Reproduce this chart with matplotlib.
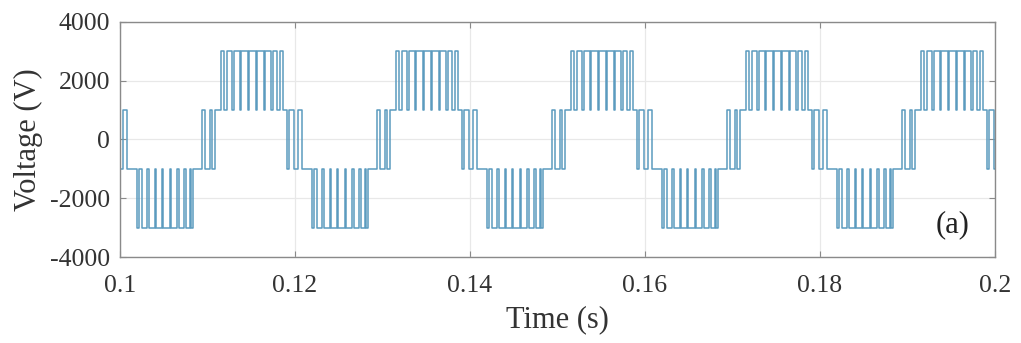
import numpy as np
import matplotlib
matplotlib.use('Agg')
import matplotlib.pyplot as plt

plt.rcParams['font.family'] = ['Liberation Serif', 'DejaVu Serif']
plt.rcParams['axes.unicode_minus'] = False

# ── Data ──────────────────────────────────────────────────────────────────────
# switching instants within one 20 ms period (ms after period start)
# and the level (V) the output takes after each instant
edge_ms = [0.0, 0.3, 0.75,
           1.9, 2.2, 2.55, 3.1, 3.3, 3.95, 4.1, 4.85, 4.95, 5.7,
           5.85, 6.55, 6.7, 7.3, 7.5, 7.95, 8.15, 8.4,
           9.4, 9.7, 10.25, 10.55, 10.85,
           11.55, 11.85, 12.25, 12.85, 13.0, 13.75, 13.85, 14.65,
           14.75, 15.55, 15.65, 16.45, 16.6, 17.3, 17.45, 18.0, 18.3, 18.6,
           19.1, 19.35, 19.85]
edge_level = [-1000, 1000, -1000,
              -3000, -1000, -3000, -1000, -3000, -1000, -3000, -1000, -3000, -1000,
              -3000, -1000, -3000, -1000, -3000, -1000, -3000, -1000,
              1000, -1000, 1000, -1000, 1000,
              3000, 1000, 3000, 1000, 3000, 1000, 3000, 1000,
              3000, 1000, 3000, 1000, 3000, 1000, 3000, 1000, 3000, 1000,
              -1000, 1000, -1000]
period_start = [0.10, 0.12, 0.14, 0.16, 0.18]

x_ticks = [0.1, 0.12, 0.14, 0.16, 0.18, 0.2]
x_labels = ['0.1', '0.12', '0.14', '0.16', '0.18', '0.2']
y_ticks = [-4000, -2000, 0, 2000, 4000]
y_labels = ['-4000', '-2000', '0', '2000', '4000']

# ── Build the stepped waveform ────────────────────────────────────────────────
t, v = [], []
for t0 in period_start:
    for e, lvl in zip(edge_ms, edge_level):
        t.append(t0 + e / 1000.0)
        v.append(lvl)
t.append(0.2)
v.append(v[-1])

fig = plt.figure(figsize=(10.21, 3.43), dpi=100)
ax = fig.add_axes([0.1175, 0.2507, 0.857, 0.6852])

ax.step(t, v, where='post', color='#5b9bbf', lw=1.1)

ax.set_xlim(0.1, 0.2)
ax.set_ylim(-4000, 4000)
ax.set_xticks(x_ticks)
ax.set_xticklabels(x_labels)
ax.set_yticks(y_ticks)
ax.set_yticklabels(y_labels)
ax.grid(True, color='#e8e8e8', lw=0.9)
ax.set_axisbelow(True)

ax.tick_params(direction='in', length=4, width=0.8, color='#8a8a8a',
               labelsize=18.5, labelcolor='#333333', top=True, right=True)
ax.tick_params(axis='x', pad=13)
ax.tick_params(axis='y', pad=7)
for s in ax.spines.values():
    s.set_color('#8a8a8a')
    s.set_linewidth(1.0)

ax.set_xlabel('Time (s)', fontsize=22, color='#333333')
ax.set_ylabel('Voltage (V)', fontsize=22, color='#333333')
ax.xaxis.set_label_coords(0.5, -0.205)
ax.yaxis.set_label_coords(-0.088, 0.5)
ax.text(0.951, 0.136, '(a)', transform=ax.transAxes, fontsize=22,
        ha='center', va='center', color='#222222')

fig.savefig('out.png', dpi=100)
